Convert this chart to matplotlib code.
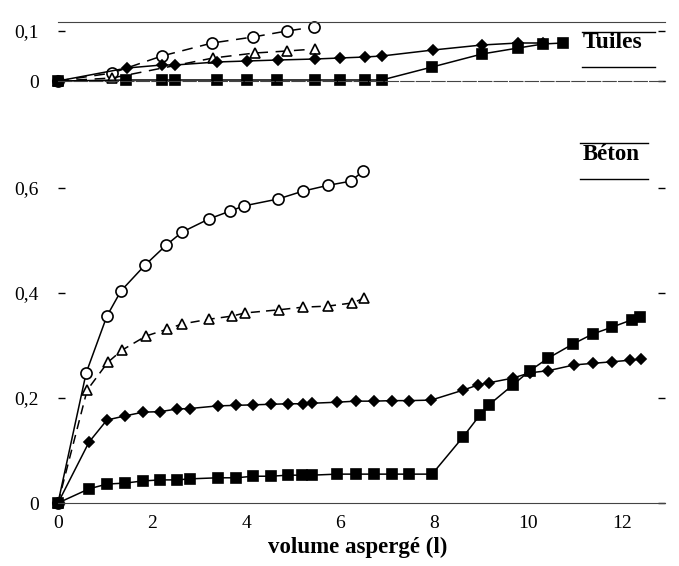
import matplotlib
matplotlib.use("Agg")
import matplotlib.pyplot as plt
from matplotlib.lines import Line2D

plt.rcParams['font.family'] = ['Liberation Serif', 'DejaVu Serif']

# --- Béton (bottom panel) ---
beton_circ_x = [0, 0.6, 1.04, 1.34, 1.85, 2.30, 2.64, 3.21, 3.66, 3.96, 4.68, 5.21, 5.74, 6.23, 6.49]
beton_circ_y = [0, 0.248, 0.356, 0.404, 0.453, 0.491, 0.516, 0.541, 0.556, 0.566, 0.579, 0.594, 0.605, 0.613, 0.632]

beton_tri_x = [0, 0.62, 1.06, 1.36, 1.87, 2.32, 2.64, 3.21, 3.70, 3.98, 4.70, 5.21, 5.74, 6.26, 6.51]
beton_tri_y = [0, 0.215, 0.268, 0.291, 0.318, 0.331, 0.341, 0.350, 0.356, 0.362, 0.368, 0.373, 0.375, 0.381, 0.390]

beton_dia_x = [0, 0.66, 1.04, 1.43, 1.81, 2.17, 2.53, 2.81, 3.40, 3.79, 4.15, 4.53, 4.89, 5.21, 5.40,
               5.94, 6.34, 6.72, 7.11, 7.47, 7.94, 8.62, 8.94, 9.17, 9.68, 10.04, 10.43, 10.98,
               11.38, 11.79, 12.17, 12.40]
beton_dia_y = [0, 0.116, 0.158, 0.166, 0.173, 0.174, 0.179, 0.180, 0.185, 0.186, 0.187, 0.188, 0.189,
               0.189, 0.190, 0.192, 0.194, 0.194, 0.195, 0.195, 0.196, 0.215, 0.225, 0.229, 0.238,
               0.248, 0.252, 0.263, 0.266, 0.269, 0.272, 0.274]

beton_sq_x = [0, 0.66, 1.04, 1.43, 1.81, 2.17, 2.53, 2.81, 3.40, 3.79, 4.15, 4.53, 4.89, 5.19, 5.40,
              5.94, 6.34, 6.72, 7.11, 7.47, 7.96, 8.62, 8.98, 9.17, 9.68, 10.04, 10.43, 10.96,
              11.38, 11.79, 12.21, 12.38]
beton_sq_y = [0, 0.027, 0.036, 0.038, 0.042, 0.044, 0.044, 0.046, 0.048, 0.048, 0.051, 0.051, 0.053,
              0.053, 0.053, 0.055, 0.055, 0.055, 0.055, 0.055, 0.055, 0.126, 0.168, 0.187, 0.225,
              0.252, 0.276, 0.303, 0.322, 0.335, 0.349, 0.354]

# --- Tuiles (top panel) ---
tuiles_circ_x = [0, 1.15, 2.21, 3.28, 4.15, 4.87, 5.45]
tuiles_circ_y = [0, 0.016, 0.050, 0.076, 0.088, 0.100, 0.108]

tuiles_tri_x = [0, 1.15, 3.30, 4.19, 4.87, 5.47]
tuiles_tri_y = [0, 0.006, 0.046, 0.056, 0.060, 0.064]

tuiles_dia_x = [0, 1.47, 2.21, 2.49, 3.38, 4.02, 4.68, 5.47, 6.00, 6.53, 6.89, 7.98, 9.02, 9.79, 10.32]
tuiles_dia_y = [0, 0.026, 0.032, 0.032, 0.038, 0.040, 0.042, 0.044, 0.046, 0.048, 0.050, 0.062,
                0.072, 0.076, 0.076]

tuiles_sq_x = [0, 1.45, 2.21, 2.49, 3.38, 4.02, 4.66, 5.47, 6.00, 6.53, 6.89, 7.96, 9.02, 9.79, 10.32, 10.74]
tuiles_sq_y = [0, 0.002, 0.002, 0.002, 0.002, 0.002, 0.002, 0.002, 0.002, 0.002, 0.002, 0.028,
               0.054, 0.066, 0.074, 0.076]

x_ticks = [0, 2, 4, 6, 8, 10, 12]
beton_yticks = [0, 0.2, 0.4, 0.6]
beton_ylabels = ["0", "0,2", "0,4", "0,6"]
tuiles_yticks = [0, 0.1]
tuiles_ylabels = ["0", "0,1"]

W, H = 679, 566
fig = plt.figure(figsize=(W / 100, H / 100), dpi=100)

left = 58 / W
width = (665 - 58) / W
ax_b = fig.add_axes([left, 1 - 503 / H, width, (503 - 140) / H])
ax_t = fig.add_axes([left, 1 - 81 / H, width, (81 - 22) / H])

def series(ax, x, y, marker, ms, face, ls='-', dashes=None):
    kw = dict(color='black', lw=1.1, marker=marker, ms=ms, mfc=face, mec='black',
              mew=1.2, clip_on=False, ls=ls)
    line, = ax.plot(x, y, **kw)
    if dashes:
        line.set_dashes(dashes)
    return line

series(ax_b, beton_circ_x, beton_circ_y, 'o', 8, 'white')
series(ax_b, beton_tri_x, beton_tri_y, '^', 7, 'white', ls='--', dashes=(6, 4))
series(ax_b, beton_dia_x, beton_dia_y, 'D', 5, 'black')
series(ax_b, beton_sq_x, beton_sq_y, 's', 6.5, 'black')

series(ax_t, tuiles_circ_x, tuiles_circ_y, 'o', 8, 'white', ls='--', dashes=(7, 5))
series(ax_t, tuiles_tri_x, tuiles_tri_y, '^', 7, 'white', ls='--', dashes=(7, 5))
series(ax_t, tuiles_dia_x, tuiles_dia_y, 'D', 5, 'black')
series(ax_t, tuiles_sq_x, tuiles_sq_y, 's', 6.5, 'black')

xmax = (665 - 58) / 47
for ax in (ax_b, ax_t):
    ax.set_xlim(0, xmax)
    ax.set_facecolor('none')
    for s in ('left', 'right'):
        ax.spines[s].set_visible(False)
    ax.tick_params(axis='y', which='both', direction='in', length=5, width=1,
                   left=True, right=True, labelsize=14, pad=14)
    ax.tick_params(axis='x', length=0)

ax_b.set_ylim(0, (503 - 140) / 525)
ax_b.spines['top'].set_visible(False)
ax_b.spines['bottom'].set_color('#444444')
ax_b.set_yticks(beton_yticks)
ax_b.set_yticklabels(beton_ylabels)
ax_b.set_xticks(x_ticks)
ax_b.set_xticklabels([str(v) for v in x_ticks])
ax_b.tick_params(axis='x', labelsize=14, pad=9)

ax_t.set_ylim(0, (81 - 22) / 500)
ax_t.spines['top'].set_color('#444444')
ax_t.spines['bottom'].set_color('#444444')
ax_t.spines['bottom'].set_linestyle((0, (12, 2)))
ax_t.set_yticks(tuiles_yticks)
ax_t.set_yticklabels(tuiles_ylabels)
ax_t.set_xticks([])

fig.text(358 / W, 1 - 547 / H, "volume aspergé (l)", ha='center', va='center',
         fontsize=16.5, fontweight='bold')

# panel labels with rules above and below
def panel_label(text, xc, yc, y_above, y_below, x0, x1, size):
    fig.text(xc / W, 1 - yc / H, text, ha='center', va='center', fontsize=size, fontweight='bold')
    for yy in (y_above, y_below):
        fig.add_artist(Line2D([x0 / W, x1 / W], [1 - yy / H, 1 - yy / H], color='black', lw=1))

panel_label("Tuiles", 613, 43, 32, 67, 582, 655, 17)
panel_label("Béton", 611, 155, 143, 179, 580, 648, 16.5)

fig.savefig("out.png", dpi=100)
